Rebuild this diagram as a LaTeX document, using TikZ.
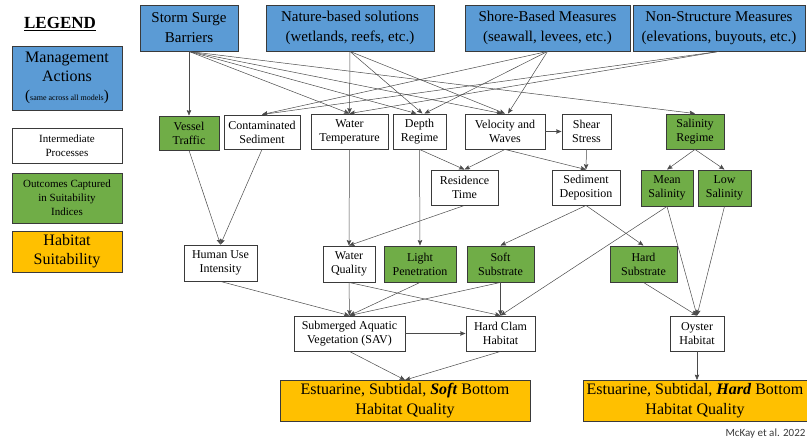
\documentclass[tikz,border=0pt]{standalone}
\usepackage{fontspec}
\setmainfont{Liberation Serif}
\setsansfont{Carlito}
\usepackage{tikz}
\usetikzlibrary{arrows.meta}

\definecolor{actionblue}{HTML}{5B9BD5}
\definecolor{outcomegreen}{HTML}{70AD47}
\definecolor{habitatgold}{HTML}{FFC000}
\definecolor{boxline}{HTML}{3A3A3A}
\definecolor{linkgray}{HTML}{4A4A4A}

\begin{document}
\begin{tikzpicture}[x=1pt, y=-1pt, ->, >={Stealth[length=5.5pt,width=4.5pt,inset=1pt]}, color=linkgray, line width=0.5pt,
  box/.style={rectangle, draw=boxline, line width=0.9pt, inner sep=0pt, align=center, text=black},
  action/.style={box, fill=actionblue, font=\rmfamily\fontsize{15}{20}\selectfont},
  process/.style={box, fill=white, font=\rmfamily\fontsize{12}{14}\selectfont},
  outcome/.style={box, fill=outcomegreen, font=\rmfamily\fontsize{12}{14}\selectfont},
  habitat/.style={box, fill=habitatgold, font=\rmfamily\fontsize{16}{20}\selectfont}]
\useasboundingbox (0,0) rectangle (807,442);
\node[text=black, font=\rmfamily\fontsize{17}{20}\selectfont\bfseries] (legend) at (60,24) {\underline{LEGEND}};
\node[action, minimum width=110, minimum height=64, font=\rmfamily\fontsize{16}{19}\selectfont] (mgmt) at (67,78) {Management\\Actions\\{\fontsize{15}{15}\selectfont(}{\fontsize{8}{9}\selectfont same across all models}{\fontsize{15}{15}\selectfont)}};
\node[process, minimum width=110, minimum height=35, font=\rmfamily\fontsize{11}{14}\selectfont] (inter) at (67,145.5) {Intermediate\\Processes};
\node[outcome, minimum width=110, minimum height=50, font=\rmfamily\fontsize{11}{14}\selectfont] (outc) at (67,198) {Outcomes Captured\\in Suitability\\Indices};
\node[habitat, minimum width=110, minimum height=41, font=\rmfamily\fontsize{16}{19}\selectfont] (suit) at (67,251.5) {Habitat\\Suitability};
\node[action, minimum width=98, minimum height=46] (ssb) at (189,28) {Storm Surge\\Barriers};
\node[action, minimum width=168, minimum height=46] (nbs) at (350,28) {Nature-based solutions\\(wetlands, reefs, etc.)};
\node[action, minimum width=165, minimum height=46] (sbm) at (547.5,28) {Shore-Based Measures\\(seawall, levees, etc.)};
\node[action, minimum width=172, minimum height=46] (nsm) at (719,28) {Non-Structure Measures\\(elevations, buyouts, etc.)};
\node[outcome, minimum width=60, minimum height=34] (vessel) at (189,133) {Vessel\\Traffic};
\node[process, minimum width=76, minimum height=34] (contam) at (262,132) {Contaminated\\Sediment};
\node[process, minimum width=77, minimum height=35] (wtemp) at (349.5,131.5) {Water\\Temperature};
\node[process, minimum width=53, minimum height=35] (depth) at (419.5,131.5) {Depth\\Regime};
\node[process, minimum width=80, minimum height=35] (velo) at (505,131.5) {Velocity and\\Waves};
\node[process, minimum width=49, minimum height=35] (shear) at (586.5,131.5) {Shear\\Stress};
\node[outcome, minimum width=58, minimum height=35] (salreg) at (695,131.5) {Salinity\\Regime};
\node[process, minimum width=67, minimum height=35] (resid) at (464.5,187.5) {Residence\\Time};
\node[process, minimum width=68, minimum height=35] (seddep) at (586,187.5) {Sediment\\Deposition};
\node[outcome, minimum width=52, minimum height=36] (meansal) at (667,188) {Mean\\Salinity};
\node[outcome, minimum width=53, minimum height=36] (lowsal) at (724.5,188) {Low\\Salinity};
\node[process, minimum width=73, minimum height=36] (human) at (220.5,263) {Human Use\\Intensity};
\node[process, minimum width=52, minimum height=36] (wqual) at (349,264) {Water\\Quality};
\node[outcome, minimum width=72, minimum height=36] (light) at (420,264) {Light\\Penetration};
\node[outcome, minimum width=67, minimum height=36] (soft) at (500.5,264) {Soft\\Substrate};
\node[outcome, minimum width=67, minimum height=36] (hard) at (643.5,264) {Hard\\Substrate};
\node[process, minimum width=111, minimum height=35] (sav) at (349.5,333.5) {Submerged Aquatic\\Vegetation (SAV)};
\node[process, minimum width=69, minimum height=35] (clam) at (500.5,333.5) {Hard Clam\\Habitat};
\node[process, minimum width=54, minimum height=35] (oyster) at (697,333.5) {Oyster\\Habitat};
\node[habitat, minimum width=250, minimum height=41] (softq) at (405,401) {Estuarine, Subtidal, \textbf{\textit{Soft}} Bottom\\Habitat Quality};
\node[habitat, minimum width=224, minimum height=41] (hardq) at (695,401) {Estuarine, Subtidal, \textbf{\textit{Hard}} Bottom\\Habitat Quality};
\node[anchor=east, text=boxline, font=\sffamily\fontsize{11}{13}\selectfont] (credit) at (809,434) {McKay et al. 2022};
\draw (ssb.south) -- (vessel.north);
\draw (ssb.south) -- (wtemp.north);
\draw (ssb.south) -- ([xshift=-3]depth.north);
\draw (ssb.south) -- ([xshift=-3]velo.north);
\draw (ssb.south) -- (salreg.north);
\draw (nbs.south) -- (wtemp.north);
\draw (nbs.south) -- ([xshift=3]depth.north);
\draw (nbs.south) -- (velo.north);
\draw (sbm.south) -- (contam.north);
\draw (sbm.south) -- ([xshift=5]depth.north);
\draw (sbm.south) -- ([xshift=3]velo.north);
\draw (nsm.south) -- (contam.north);
\draw (nsm.south) -- (wtemp.north);
\draw (vessel.south) -- (human.north);
\draw (contam.south) -- (human.north);
\draw (wtemp.south) -- (wqual.north);
\draw (depth.south) -- (light.north);
\draw (depth.south) -- (resid.north);
\draw (velo.south) -- (resid.north);
\draw (velo.east) -- (shear.west);
\draw (velo.south) -- (seddep.north);
\draw (shear.south) -- (seddep.north);
\draw (salreg.south) -- (meansal.north);
\draw (salreg.south) -- (lowsal.north);
\draw (resid.south) -- (wqual.north);
\draw (seddep.south) -- (soft.north);
\draw (seddep.south) -- (hard.north);
\draw (meansal.south) -- (clam.north);
\draw (meansal.south) -- (oyster.north);
\draw (lowsal.south) -- (oyster.north);
\draw (hard.south) -- (oyster.north);
\draw (human.south) -- (sav.north);
\draw (wqual.south) -- (sav.north);
\draw (light.south) -- (sav.north);
\draw (soft.south) -- (sav.north);
\draw (wqual.south) -- (clam.north);
\draw (soft.south) -- (clam.north);
\draw (sav.east) -- (clam.west);
\draw (sav.south) -- (softq.north);
\draw (clam.south) -- (softq.north);
\draw (oyster.south) -- (oyster.south |- hardq.north);
\end{tikzpicture}
\end{document}
